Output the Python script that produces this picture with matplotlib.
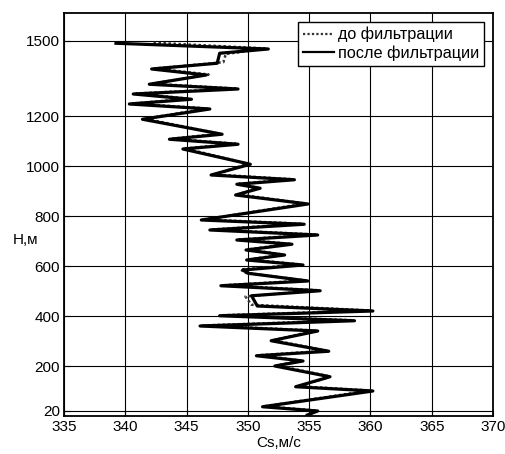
import matplotlib
matplotlib.use("Agg")
import matplotlib.pyplot as plt

plt.rcParams['font.family'] = ['Liberation Sans', 'DejaVu Sans']

# after filtering (solid)
h_after = [1491, 1468, 1451, 1411, 1388, 1364, 1327, 1308, 1288, 1267, 1248, 1228,
           1187, 1127, 1107, 1087, 1068, 1007, 964, 945, 927, 911, 884, 848, 784,
           767, 744, 724, 704, 687, 664, 644, 624, 604, 584, 571, 540, 521, 501,
           481, 440, 420, 401, 381, 360, 340, 301, 259, 241, 220, 200, 157, 117,
           100, 37, 20, 4]
cs_after = [339.24, 351.67, 347.7, 347.5, 342.15, 346.6, 341.96, 349.2, 340.65, 345.4,
            340.33, 346.9, 341.4, 347.9, 343.6, 349.2, 344.7, 350.2, 347.0, 353.8,
            349.1, 351.0, 349.0, 354.9, 346.2, 354.6, 346.9, 355.7, 349.1, 353.6,
            349.85, 353.0, 349.9, 354.5, 349.6, 350.0, 354.9, 347.8, 355.9, 350.3,
            350.77, 360.2, 347.7, 358.7, 346.1, 355.7, 351.9, 356.6, 350.7, 354.5,
            352.2, 356.7, 353.9, 360.2, 351.2, 355.7, 354.85]

# before filtering (dotted)
h_before = [1493, 1470, 1448, 1415, 1390, 1366, 1329, 1310, 1290, 1269, 1250, 1230,
            1189, 1129, 1109, 1089, 1070, 1009, 966, 947, 929, 913, 886, 850, 786,
            769, 746, 726, 706, 689, 666, 646, 626, 606, 586, 573, 542, 523, 503,
            478, 445, 422, 403, 383, 362, 342, 303, 261, 243, 222, 202, 160, 150,
            119, 102, 39, 22, 4]
cs_before = [342.3, 351.5, 348.2, 348.0, 342.4, 346.8, 342.2, 349.0, 340.9, 345.2,
             340.6, 346.7, 341.6, 347.7, 343.8, 349.0, 344.9, 350.0, 347.3, 353.6,
             349.3, 350.8, 349.2, 354.7, 346.5, 354.4, 347.1, 355.5, 349.3, 353.4,
             350.0, 352.8, 350.1, 354.3, 349.4, 349.8, 354.7, 348.0, 355.7, 349.8,
             350.3, 360.0, 347.9, 358.5, 346.3, 355.5, 352.1, 356.4, 350.9, 354.3,
             352.4, 356.5, 356.3, 354.1, 360.0, 351.4, 355.5, 355.0]

xticks = [335, 340, 345, 350, 355, 360, 365, 370]
yticks = [20, 200, 400, 600, 800, 1000, 1200, 1500]

fig = plt.figure(figsize=(5.06, 4.54), dpi=100)
ax = fig.add_axes([64/506, 1-416/454, (493-64)/506, (416-13)/454])

ax.plot(cs_before, h_before, color='#333333', linestyle=(0, (1, 1)), lw=1.8,
        label='до фильтрации', zorder=2)
ax.plot(cs_after, h_after, color='black', lw=2.3, label='после фильтрации', zorder=3)

ax.set_xlim(335, 370)
ax.set_ylim(0, 1612)
ax.set_xticks(xticks)
ax.set_yticks(yticks)
ax.tick_params(direction='in', labelsize=11, length=4, pad=3)
ax.grid(True, color='black', lw=0.8)
for s in ax.spines.values():
    s.set_linewidth(1.3)

ax.set_xlabel('Cs,м/с', fontsize=11, labelpad=1.5)
ax.set_ylabel('H,м', fontsize=11, rotation=0, ha='center', va='center')
ax.yaxis.set_label_coords(-0.09, 0.437)

leg = ax.legend(loc='upper right', fontsize=11.7, handlelength=1.9, handletextpad=0.25,
                borderpad=0.3, labelspacing=0.2, fancybox=False, framealpha=1,
                borderaxespad=0.55)
leg.get_frame().set_edgecolor('black')
leg.get_frame().set_linewidth(1.0)
for line in leg.get_lines():
    line.set_linewidth(1.6)

fig.savefig('out.png', dpi=100)
